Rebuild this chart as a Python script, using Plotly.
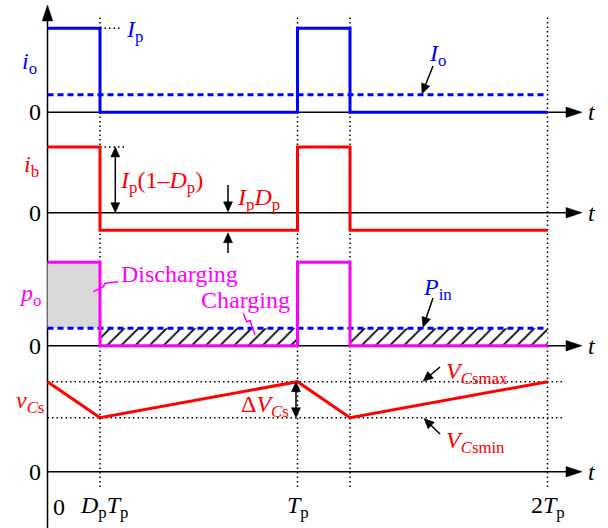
import math
import plotly.graph_objects as go

# ---- waveform data (per-unit values, one switching period Tp = 1) ----
Dp = 0.21                                        # pulse duty ratio
t_pulse = [0, Dp, Dp, 1, 1, 1 + Dp, 1 + Dp, 2]   # time points of the pulse trains
io = [1, 1, 0, 0, 1, 1, 0, 0]                    # output current (units of Ip)
Io = 0.21                                        # average output current
ib = [0.79, 0.79, -0.21, -0.21, 0.79, 0.79, -0.21, -0.21]  # battery current
po = [1, 1, 0, 0, 1, 1, 0, 0]                    # output power
Pin = 0.21                                       # input power
t_v = [0, Dp, 1, 1 + Dp, 2]
vcs = [1.0, 0.6, 1.0, 0.6, 1.0]                  # buffer capacitor voltage
VCsmax, VCsmin = 1.0, 0.6
tick_t = [0, Dp, 1, 2]
tick_text = ["0", "<i>D</i><sub>p</sub><i>T</i><sub>p</sub>",
             "<i>T</i><sub>p</sub>", "2<i>T</i><sub>p</sub>"]

# ---- geometry of the stacked panels ----
W, H = 608, 528
X0, SX = 47.5, 250.0                 # pixel of t = 0, pixels per Tp
PANELS = {                           # axis, pixel row of zero, pixels per unit
    "io": ("y", 112.3, 84.0),
    "ib": ("y2", 212.7, 83.3),
    "po": ("y3", 345.7, 83.5),
    "vc": ("y4", 471.7, 90.0),
}
FONT = "Liberation Serif, Times New Roman, serif"
FS = 24
BLUE, RED, MAG = "#0000ff", "#ff0000", "#ff00ff"


def tx(px):
    return (px - X0) / SX


def vy(py, p):
    _, z, s = PANELS[p]
    return (z - py) / s


def to_px(t, v, p):
    _, z, s = PANELS[p]
    return X0 + t * SX, z - v * s


shapes, notes = [], []


def seg(p, t0, v0, t1, v1, color="black", width=1.5, dash=None, layer="above"):
    shapes.append(dict(type="line", xref="x", yref=PANELS[p][0],
                       x0=t0, y0=v0, x1=t1, y1=v1, layer=layer,
                       line=dict(color=color, width=width, dash=dash)))


def head(yref, t_tip, v_tip, ux, uy, L, hw, color="black"):
    # filled triangle, tip at the anchor, (ux, uy) = screen direction
    bx, by = -L * ux, -L * uy
    nx, ny = -uy, ux
    p1 = (bx + hw * nx, by + hw * ny)
    p2 = (bx - hw * nx, by - hw * ny)
    path = "M0,0 L{:.2f},{:.2f} L{:.2f},{:.2f} Z".format(p1[0], -p1[1], p2[0], -p2[1])
    shapes.append(dict(type="path", xref="x", yref=yref, xsizemode="pixel",
                       ysizemode="pixel", xanchor=t_tip, yanchor=v_tip, path=path,
                       fillcolor=color, line=dict(color=color, width=0.5),
                       layer="above"))


def arrow(p, t0, v0, t1, v1, both=False, L=10, hw=4.5, width=1.5, layer="above"):
    x0, y0 = to_px(t0, v0, p)
    x1, y1 = to_px(t1, v1, p)
    d = math.hypot(x1 - x0, y1 - y0)
    ux, uy = (x1 - x0) / d, (y1 - y0) / d
    k1 = 0.7 * L / d
    k0 = k1 if both else 0.0
    seg(p, t0 + (t1 - t0) * k0, v0 + (v1 - v0) * k0,
        t1 - (t1 - t0) * k1, v1 - (v1 - v0) * k1, width=width, layer=layer)
    head(PANELS[p][0], t1, v1, ux, uy, L, hw)
    if both:
        head(PANELS[p][0], t0, v0, -ux, -uy, L, hw)


def text(p, t, v, s, color="black", xanchor="center", size=FS):
    notes.append(dict(xref="x", yref=PANELS[p][0], x=t, y=v, text=s,
                      showarrow=False, xanchor=xanchor, yanchor="middle",
                      font=dict(family=FONT, size=size, color=color)))


def squiggle(p, pts, color):
    path = "M" + " L".join("{:.4f},{:.4f}".format(tx(a), vy(b, p)) for a, b in pts)
    shapes.append(dict(type="path", xref="x", yref=PANELS[p][0], path=path,
                       line=dict(color=color, width=1.5), layer="above"))


fig = go.Figure()

# ---- traces ----
# panel 1: output current
fig.add_trace(go.Scatter(x=[t_pulse[0], t_pulse[-1]], y=[Io, Io], yaxis="y",
                         mode="lines", line=dict(color=BLUE, width=3, dash="6px,4px")))
fig.add_trace(go.Scatter(x=t_pulse, y=io, yaxis="y", mode="lines",
                         line=dict(color=BLUE, width=3)))
# panel 2: battery current
fig.add_trace(go.Scatter(x=t_pulse, y=ib, yaxis="y2", mode="lines",
                         line=dict(color=RED, width=3)))
# panel 3: output power with discharging / charging areas
fig.add_trace(go.Scatter(x=[t_pulse[0], t_pulse[1], t_pulse[2], t_pulse[0]],
                         y=[po[0], po[1], Pin, Pin], yaxis="y3", mode="lines",
                         fill="toself", fillcolor="#d9d9d9", line=dict(width=0)))
for a, b in [(t_pulse[2], t_pulse[3]), (t_pulse[6], t_pulse[7])]:
    fig.add_trace(go.Scatter(x=[a, b, b, a, a], y=[0, 0, Pin, Pin, 0], yaxis="y3",
                             mode="lines", fill="toself",
                             line=dict(width=0, color="black"),
                             marker=dict(color="black"),
                             fillcolor="white",
                             fillpattern=dict(shape="/", fgcolor="black",
                                              bgcolor="white", fgopacity=1,
                                              size=10, solidity=0.18)))
fig.add_trace(go.Scatter(x=[t_pulse[0], t_pulse[-1]], y=[Pin, Pin], yaxis="y3",
                         mode="lines", line=dict(color=BLUE, width=3, dash="6px,4px")))
fig.add_trace(go.Scatter(x=t_pulse, y=po, yaxis="y3", mode="lines",
                         line=dict(color=MAG, width=3)))
# panel 4: capacitor voltage
fig.add_trace(go.Scatter(x=t_v, y=vcs, yaxis="y4", mode="lines",
                         line=dict(color=RED, width=3)))

# ---- axes drawn as arrows ----
t_end = tx(582)
for p in PANELS:
    seg(p, 0, 0, t_end - 0.03, 0, layer="below")
    head(PANELS[p][0], t_end, 0, 1, 0, 16, 5.3)
    text(p, tx(592), 0, "<i>t</i>")
    text(p, tx(43), 0, "0", xanchor="right")

shapes.append(dict(type="line", xref="x", yref="paper", x0=0, x1=0, y0=0,
                   y1=1 - 14 / H, layer="below", line=dict(color="black", width=1.5)))
head("paper", 0, 1 - 5 / H, 0, -1, 16, 5.3)

# vertical dotted guides at DpTp, Tp, Tp+DpTp, 2Tp
for t in [t_pulse[1], t_pulse[3], t_pulse[5], t_pulse[7]]:
    shapes.append(dict(type="line", xref="x", yref="paper", x0=t, x1=t,
                       y0=1 - 487 / H, y1=1 - 15 / H, layer="below",
                       line=dict(color="black", width=1.5, dash="1.5px,3px")))

# panel 1 annotations
seg("io", Dp, io[0], tx(122), io[0], width=1.5, dash="1.5px,3px", layer="below")
text("io", tx(29), vy(63, "io"), "<i>i</i><sub>o</sub>", BLUE)
text("io", tx(124), vy(31, "io"), "<i>I</i><sub>p</sub>", BLUE, xanchor="left")
text("io", tx(437), vy(55, "io"), "<i>I</i><sub>o</sub>", BLUE)
arrow("io", tx(433), vy(66, "io"), tx(422), Io + 0.01)

# panel 2 annotations
seg("ib", Dp, ib[0], tx(125), ib[0], width=1.5, dash="1.5px,3px", layer="below")
arrow("ib", tx(115.3), 0, tx(115.3), ib[0], both=True)
text("ib", tx(31), vy(166, "ib"), "<i>i</i><sub>b</sub>", RED)
text("ib", tx(118), vy(182, "ib"), "<i>I</i><sub>p</sub>(1\u2013<i>D</i><sub>p</sub>)",
     RED, xanchor="left")
text("ib", tx(235), vy(199, "ib"), "<i>I</i><sub>p</sub><i>D</i><sub>p</sub>",
     RED, xanchor="left")
arrow("ib", tx(228), vy(185, "ib"), tx(228), 0.01)
arrow("ib", tx(228), vy(253, "ib"), tx(228), ib[2] - 0.03)

# panel 3 annotations
text("po", tx(30), vy(295, "po"), "<i>p</i><sub>o</sub>", MAG)
text("po", tx(119), vy(274, "po"), "Discharging", MAG, xanchor="left")
text("po", tx(199), vy(300, "po"), "Charging", MAG, xanchor="left")
squiggle("po", [(93.3, 291.7), (103.3, 286.7), (105, 283.3), (118.3, 281.7)], MAG)
squiggle("po", [(243.3, 313.3), (246.7, 321.7), (250, 320.5), (255, 335)], MAG)
text("po", tx(437), vy(289, "po"), "<i>P</i><sub>in</sub>", BLUE)
arrow("po", tx(433), vy(298, "po"), tx(423), Pin + 0.01)

# panel 4 annotations
for lvl in [VCsmax, VCsmin]:
    seg("vc", 0, lvl, tx(563), lvl, width=1.5, dash="1.5px,3px", layer="below")
text("vc", tx(30), vy(402, "vc"), "<i>v</i><sub><i>C</i>s</sub>", RED)
text("vc", tx(291), vy(406, "vc"), "\u0394<i>V</i><sub><i>C</i>s</sub>", RED, xanchor="right")
arrow("vc", tx(296), VCsmax, tx(296), VCsmin, both=True)
text("vc", tx(444), vy(373, "vc"), "<i>V</i><sub><i>C</i>smax</sub>", RED, xanchor="left")
text("vc", tx(444), vy(442, "vc"), "<i>V</i><sub><i>C</i>smin</sub>", RED, xanchor="left")
arrow("vc", tx(440), vy(367, "vc"), tx(423), VCsmax + 0.005)
arrow("vc", tx(440), vy(434, "vc"), tx(424), VCsmin - 0.01)

# time labels under the last panel
offsets = [11, 4, 0, 0]
for t, s, o in zip(tick_t, tick_text, offsets):
    text("vc", t + o / SX, vy(507, "vc"), s)


def yr(p):
    _, z, s = PANELS[p]
    return [-(H - z) / s, z / s]


fig.update_layout(
    width=W, height=H, margin=dict(l=0, r=0, t=0, b=0),
    paper_bgcolor="white", plot_bgcolor="white", showlegend=False,
    hovermode=False,
    xaxis=dict(range=[-X0 / SX, (W - X0) / SX], visible=False, domain=[0, 1]),
    yaxis=dict(range=yr("io"), visible=False, domain=[0, 1]),
    yaxis2=dict(range=yr("ib"), visible=False, overlaying="y"),
    yaxis3=dict(range=yr("po"), visible=False, overlaying="y"),
    yaxis4=dict(range=yr("vc"), visible=False, overlaying="y"),
    shapes=shapes, annotations=notes,
)

fig.write_html("out.html")
